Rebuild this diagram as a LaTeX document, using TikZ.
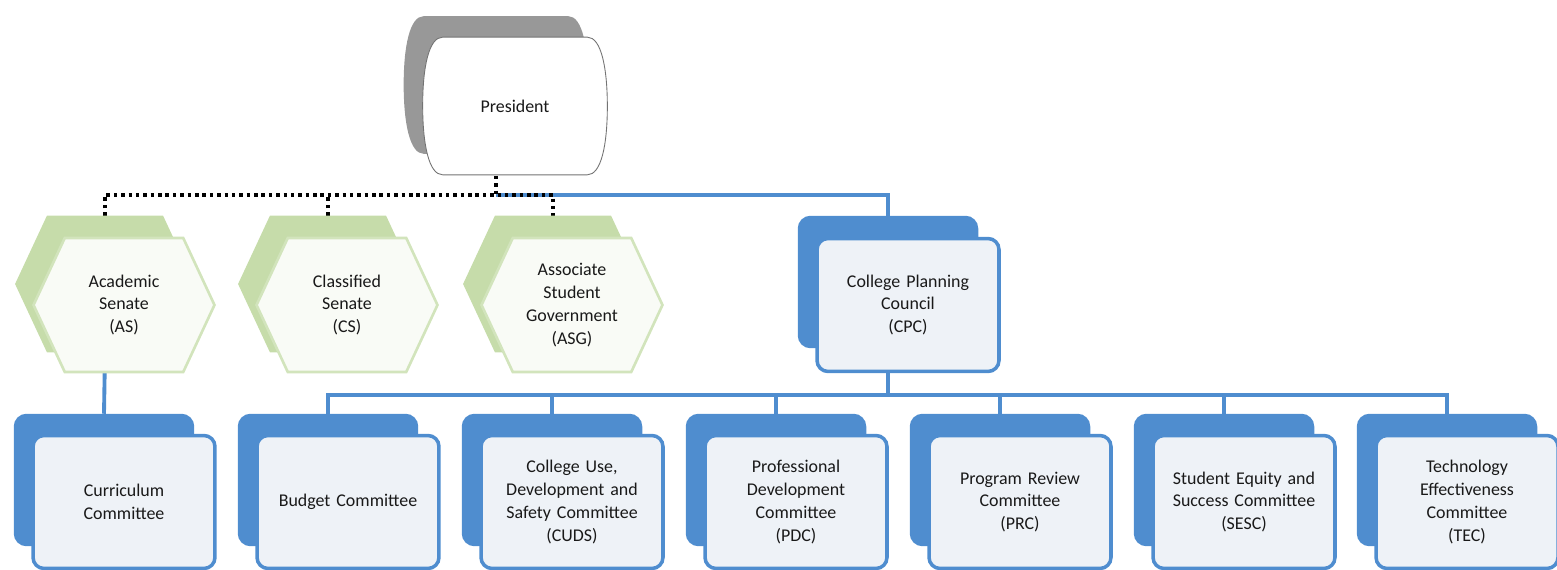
\documentclass[tikz,border=0pt]{standalone}
\usepackage{fontspec}
\setmainfont{Carlito}
\usepackage{tikz}
\usetikzlibrary{shapes.geometric, shapes.symbols, backgrounds}

\definecolor{boxblue}{RGB}{79,141,207}
\definecolor{panelfill}{RGB}{238,242,247}
\definecolor{hexgreen}{RGB}{198,220,170}
\definecolor{hexline}{RGB}{210,228,188}
\definecolor{hexfill}{RGB}{249,251,246}
\definecolor{headgray}{RGB}{152,152,152}
\definecolor{inktext}{RGB}{25,25,25}

\tikzstyle{panel} = [rectangle, rounded corners=0.22cm,
minimum width=3.64cm,
minimum height=2.66cm,
text centered,
text width=3.2cm,
inner sep=1pt,
draw=boxblue, line width=2pt,
fill=panelfill,
text=inktext,
font=\fontsize{10.2}{13}\selectfont]
\tikzstyle{backbox} = [rectangle, rounded corners=0.22cm,
minimum width=3.54cm,
minimum height=2.58cm,
draw=boxblue, line width=2pt,
fill=boxblue]
\tikzstyle{hexback} = [signal, signal to=west and east,
signal pointer angle=130,
minimum width=3.54cm,
minimum height=2.68cm,
draw=hexgreen, line width=1.5pt,
fill=hexgreen]
\tikzstyle{hexpanel} = [signal, signal to=west and east,
signal pointer angle=130,
minimum width=3.54cm,
minimum height=2.68cm,
text centered,
text width=2.3cm,
inner sep=1pt,
draw=hexline, line width=1.5pt,
fill=hexfill,
text=inktext,
font=\fontsize{10.2}{13}\selectfont]
\tikzstyle{headbox} = [rectangle,
minimum width=2.88cm,
minimum height=2.74cm,
text centered,
text=inktext,
font=\fontsize{10.2}{13}\selectfont]
\tikzstyle{headline} = [draw=black!55, line width=0.5pt, fill=white]
\tikzstyle{link} = [draw=boxblue, line width=2.2pt]
\tikzstyle{dotlink} = [draw=black, line width=2pt, dash pattern=on 2pt off 2.2pt]

\begin{document}
\begin{tikzpicture}[x=0.02cm, y=-0.02cm]
\useasboundingbox (0,0) rectangle (1557,570);

% top
\node (presb) [headbox] at (496,85) {};
\node (pres) [headbox] at ([shift={(19,21)}]presb) {President};

% senates and student government
\node (asb) [hexback] at (105,284) {};
\node (as) [hexpanel] at ([shift={(19,21)}]asb) {Academic\\Senate\\(AS)};
\node (csb) [hexback] at (328,284) {};
\node (cs) [hexpanel] at ([shift={(19,21)}]csb) {Classified\\Senate\\(CS)};
\node (asgb) [hexback] at (553,284) {};
\node (asg) [hexpanel] at ([shift={(19,21)}]asgb) {Associate\\Student\\Government\\(ASG)};

% planning council
\node (cpcb) [backbox] at (888,282) {};
\node (cpc) [panel] at ([shift={(20,23)}]cpcb) {College Planning\\Council\\(CPC)};

% committees
\node (curb) [backbox] at (104,480) {};
\node (cur) [panel] at ([shift={(20,22)}]curb) {Curriculum\\Committee};
\node (budgetb) [backbox] at (328,480) {};
\node (budget) [panel] at ([shift={(20,22)}]budgetb) {Budget Committee};
\node (cudsb) [backbox] at (552,480) {};
\node (cuds) [panel] at ([shift={(20,22)}]cudsb) {College Use,\\Development and\\Safety Committee\\(CUDS)};
\node (pdcb) [backbox] at (776,480) {};
\node (pdc) [panel] at ([shift={(20,22)}]pdcb) {Professional\\Development\\Committee\\(PDC)};
\node (prcb) [backbox] at (1000,480) {};
\node (prc) [panel] at ([shift={(20,22)}]prcb) {Program Review\\Committee\\(PRC)};
\node (sescb) [backbox] at (1224,480) {};
\node (sesc) [panel] at ([shift={(20,22)}]sescb) {Student Equity and\\Success Committee\\(SESC)};
\node (tecb) [backbox] at (1447,480) {};
\node (tec) [panel] at ([shift={(20,22)}]tecb) {Technology\\Effectiveness\\Committee\\(TEC)};

\coordinate (bar) at (0,195);
\coordinate (bar2) at (0,395);

\begin{scope}[on background layer]
\draw [link] (presb.south |- bar) -| (cpcb.north);
\draw [dotlink] (presb.south) -- (presb.south |- bar);
\draw [dotlink] (asb.north) |- (asgb.north |- bar) -- (asgb.north);
\draw [dotlink] (csb.north) -- (csb.north |- bar);
\draw [link] (asb.south) -- (curb.north);
\draw [link] (cpcb.south) -- (cpcb.south |- bar2);
\draw [link] (budgetb.north) |- (tecb.north |- bar2) -- (tecb.north);
\foreach \n in {cudsb, pdcb, prcb, sescb}
  \draw [link] (\n.north) -- (\n.north |- bar2);
% president outline, sides bowed out
\fill [headgray] (presb.north west) .. controls +(-14,0) and +(0,-38) .. +(-20,68.5)
  .. controls +(0,38) and +(-14,0) .. (presb.south west)
  -- (presb.south east) .. controls +(14,0) and +(0,38) .. +(20,-68.5)
  .. controls +(0,-38) and +(14,0) .. (presb.north east) -- cycle;
\path [headline] (pres.north west) .. controls +(-14,0) and +(0,-38) .. +(-20,68.5)
  .. controls +(0,38) and +(-14,0) .. (pres.south west)
  -- (pres.south east) .. controls +(14,0) and +(0,38) .. +(20,-68.5)
  .. controls +(0,-38) and +(14,0) .. (pres.north east) -- cycle;
\end{scope}
\end{tikzpicture}
\end{document}
